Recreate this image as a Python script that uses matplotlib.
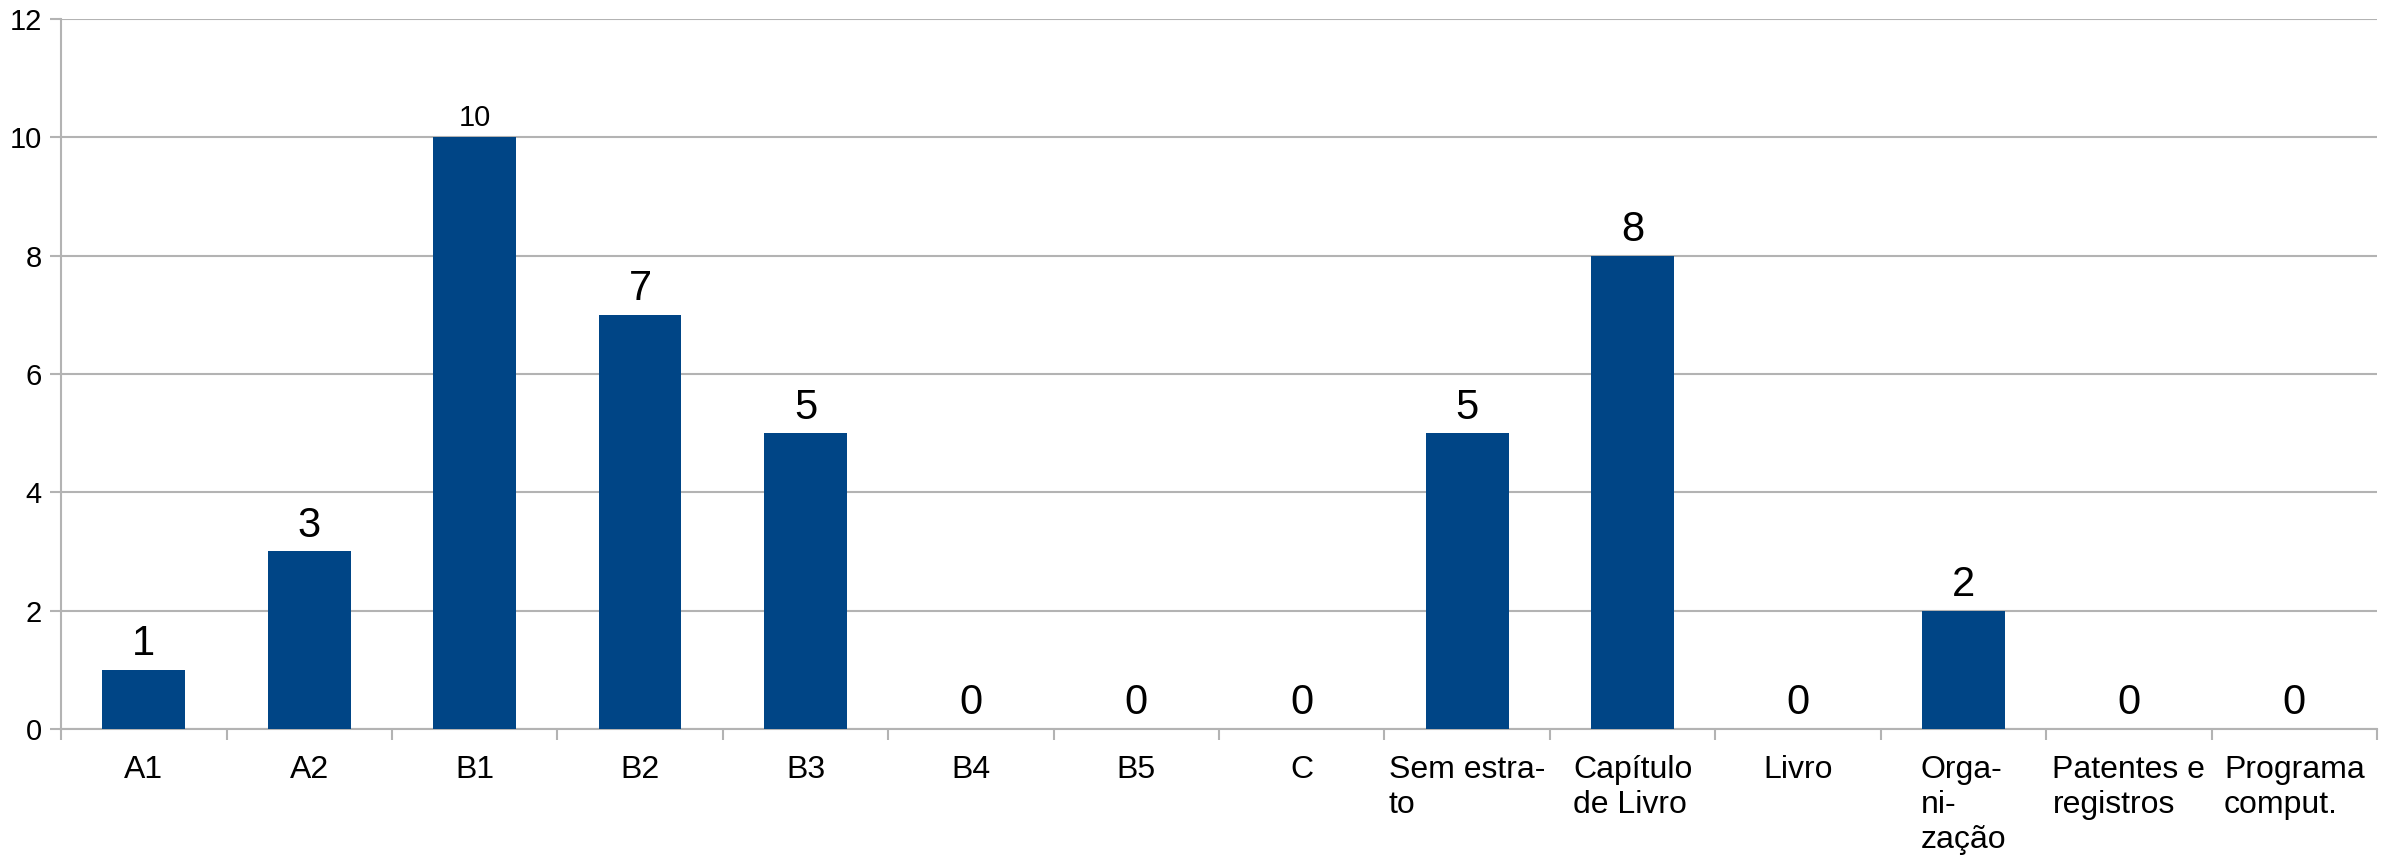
import matplotlib.pyplot as plt
import numpy as np

plt.rcParams['font.family'] = ['Liberation Sans', 'DejaVu Sans']

# categories and counts
categories = ["A1", "A2", "B1", "B2", "B3", "B4", "B5", "C",
              "Sem estra-\nto", "Capítulo\nde Livro", "Livro",
              "Orga-\nni-\nzação", "Patentes e\nregistros", "Programa\ncomput."]
counts = [1, 3, 10, 7, 5, 0, 0, 0, 5, 8, 0, 2, 0, 0]
label_sizes = [30, 30, 21, 30, 30, 30, 30, 30, 30, 30, 30, 30, 30, 30]

bar_color = "#004586"
grid_color = "#b3b3b3"

fig = plt.figure(figsize=(23.87, 8.57), dpi=100)
ax = fig.add_axes([0.0256, 0.1494, 0.9702, 0.8284])

x = np.arange(len(categories))
ax.bar(x, counts, width=0.5, color=bar_color, zorder=3)

for xi, v, fs in zip(x, counts, label_sizes):
    ax.annotate(str(v), (xi, v), xytext=(0, 4), textcoords="offset points",
                ha="center", va="bottom", fontsize=fs, color="black")

ax.set_xlim(-0.5, len(categories) - 0.5)
ax.set_ylim(0, 12)
ax.set_yticks(range(0, 13, 2))
ax.yaxis.grid(True, color=grid_color, linewidth=1.5, zorder=0)
ax.set_axisbelow(True)

# category separators as major ticks, labels on minor ticks
ax.set_xticks(np.arange(len(categories) + 1) - 0.5)
ax.set_xticklabels([])
ax.set_xticks(x, minor=True)
ax.set_xticklabels(categories, minor=True, fontsize=23, ha="center",
                   multialignment="left", linespacing=1.22)
ax.tick_params(axis="x", which="major", length=8, width=1.5, color=grid_color)
ax.tick_params(axis="x", which="minor", length=0, pad=19)
ax.tick_params(axis="y", length=8, width=1.5, color=grid_color, labelsize=21, pad=6)

for s in ["top", "right"]:
    ax.spines[s].set_visible(False)
for s in ["left", "bottom"]:
    ax.spines[s].set_color(grid_color)
    ax.spines[s].set_linewidth(1.5)

fig.savefig("out.png", dpi=100)
